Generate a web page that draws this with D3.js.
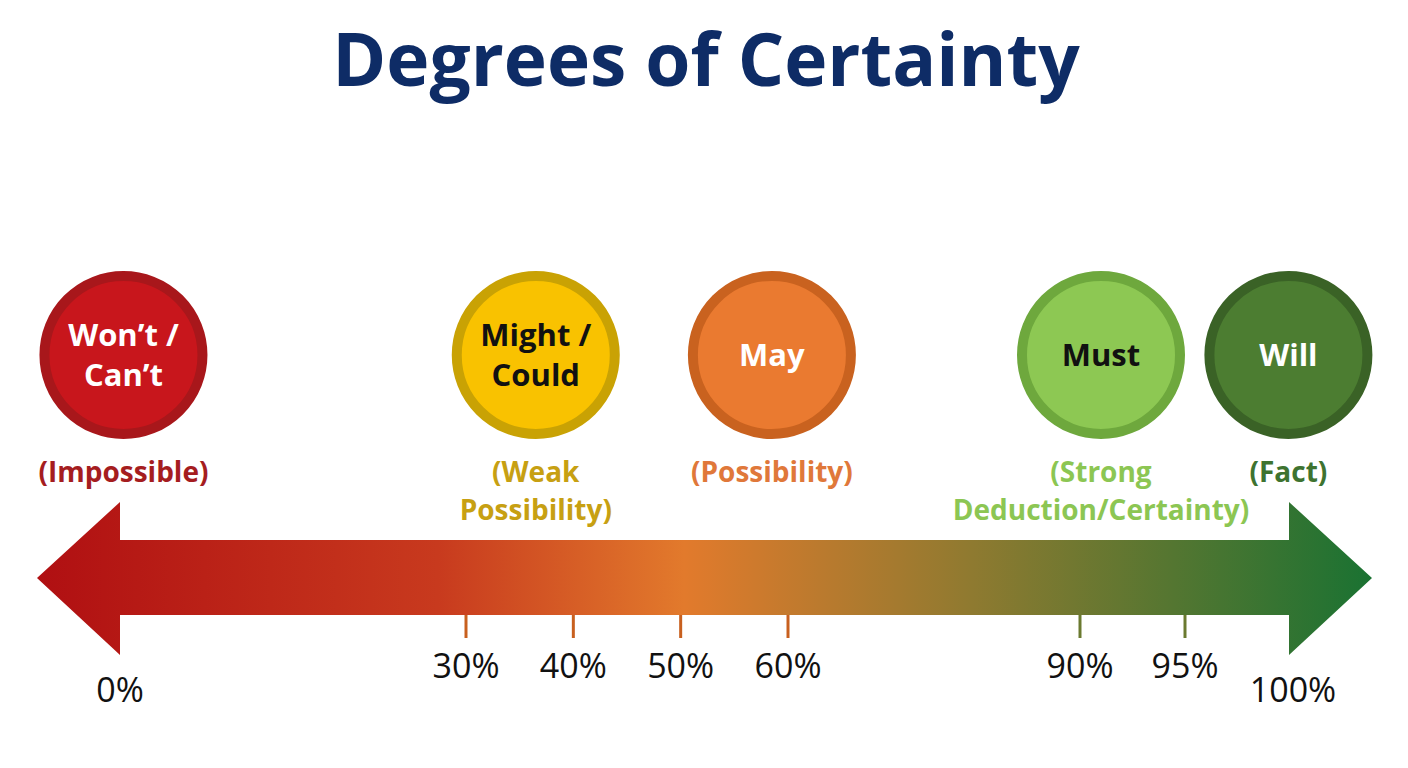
<!DOCTYPE html>
<html><head><meta charset="utf-8">
<script src="https://cdn.jsdelivr.net/npm/d3@7"></script>
<style>body{margin:0;background:#fff}svg{display:block;font-family:"Open Sans",Lato,sans-serif}</style>
</head><body><svg id="c" width="1408" height="768"></svg>
<script>
const title = "Degrees of Certainty";
const tickValues = [30, 40, 50, 60, 90, 95];
const endValues = [0, 100];
const modalLabels = [["Won’t /","Can’t"],["Might /","Could"],["May"],["Must"],["Will"]];
const modalPositions = [0.3, 36.5, 58.5, 91, 99.7];
const meaningLabels = [["(Impossible)"],["(Weak","Possibility)"],["(Possibility)"],["(Strong","Deduction/Certainty)"],["(Fact)"]];
const fillColors = ["#c8161c","#f9c200","#ea7a30","#8dc853","#4c7d31"];
const ringColors = ["#a8171b","#c9a204","#c9621f","#6ea83d","#3a6226"];
const textColors = ["#fff","#111","#fff","#111","#fff"];
const meaningColors = ["#a51d1f","#c7a012","#e0783a","#8cc653","#3e7330"];

const svg = d3.select("#c");
const x = d3.scaleLinear().domain([0,30,60,90,95,100]).range([120,466,788,1080,1185,1295]);

svg.append("text").attr("x",706).attr("y",86).attr("text-anchor","middle")
  .attr("font-size",73).attr("font-weight",700).attr("fill","#0e2c66").text(title);

const defs = svg.append("defs");
const g = defs.append("linearGradient").attr("id","gr").attr("gradientUnits","userSpaceOnUse")
  .attr("x1",37).attr("x2",1372).attr("y1",0).attr("y2",0);
[[0,"#b00f12"],[0.3,"#c83a1e"],[0.485,"#e27a2c"],[0.7,"#8f7a30"],[1,"#1a7232"]].forEach(s=>
  g.append("stop").attr("offset",s[0]).attr("stop-color",s[1]));
const yT=540,yB=615,yM=578,hT=502,hB=655;
const L=37,R=1372,bL=x(0),bR=x(100)-6;
svg.append("path").attr("fill","url(#gr)")
  .attr("d",`M${L},${yM}L${bL},${hT}L${bL},${yT}L${bR},${yT}L${bR},${hT}L${R},${yM}L${bR},${hB}L${bR},${yB}L${bL},${yB}L${bL},${hB}Z`);

svg.selectAll(".tk").data(tickValues).join("line")
  .attr("x1",d=>x(d)).attr("x2",d=>x(d)).attr("y1",615).attr("y2",638)
  .attr("stroke",d=>d>=90?"#6b7a30":"#c8601f").attr("stroke-width",3);
svg.selectAll(".tl").data(tickValues).join("text")
  .attr("x",d=>x(d)).attr("y",678).attr("text-anchor","middle").attr("font-size",34).attr("fill","#111")
  .text(d=>d+"%");
svg.selectAll(".el").data(endValues).join("text")
  .attr("x",d=>d===0?x(d):x(d)-2).attr("y",702).attr("text-anchor","middle").attr("font-size",34).attr("fill","#111")
  .text(d=>d+"%");

const cy=355;
modalLabels.forEach((lab,i)=>{
  const cx = x(modalPositions[i]);
  svg.append("circle").attr("cx",cx).attr("cy",cy).attr("r",79).attr("fill",fillColors[i])
    .attr("stroke",ringColors[i]).attr("stroke-width",10);
  const t = svg.append("text").attr("x",cx).attr("text-anchor","middle").attr("font-size",31)
    .attr("font-weight",700).attr("fill",textColors[i]);
  const y0 = cy + 11 - (lab.length-1)*20;
  lab.forEach((s,j)=>t.append("tspan").attr("x",cx).attr("y",y0+j*40).text(s));
  const m = svg.append("text").attr("x",cx).attr("text-anchor","middle").attr("font-size",28)
    .attr("font-weight",700).attr("fill",meaningColors[i]);
  meaningLabels[i].forEach((s,j)=>m.append("tspan").attr("x",cx).attr("y",482+j*38).text(s));
});
</script></body></html>
